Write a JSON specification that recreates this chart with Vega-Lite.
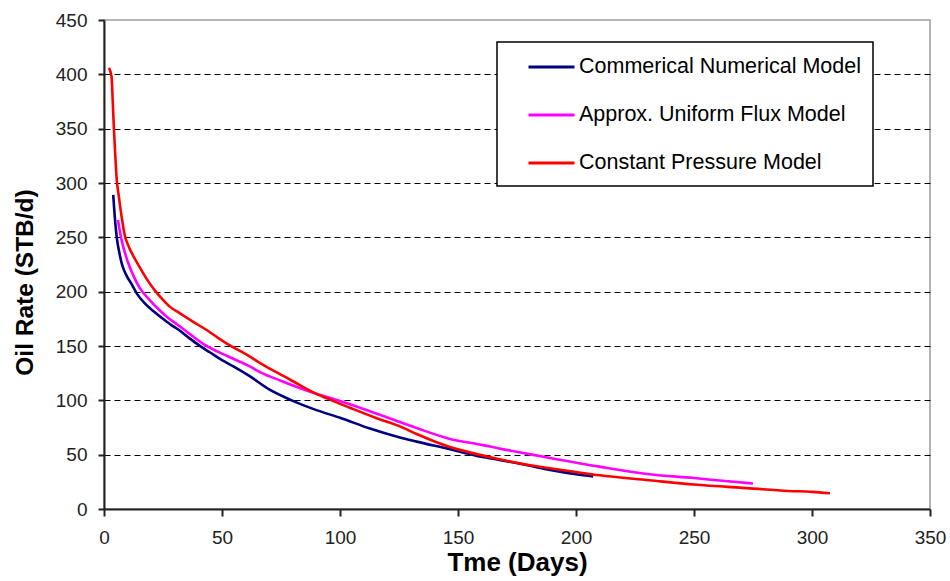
{
  "$schema": "https://vega.github.io/schema/vega-lite/v6.json",
  "width": 826,
  "height": 489,
  "autosize": {"type": "none"},
  "padding": {"left": 104, "top": 20, "right": 20, "bottom": 72},
  "background": "white",
  "config": {
    "font": "Liberation Sans",
    "view": {"stroke": "#9a9a9a", "strokeWidth": 1.5}
  },
  "datasets": {
    "curves": [
      {"model": "Commerical Numerical Model", "days": 3.9, "rate": 289},
      {"model": "Commerical Numerical Model", "days": 4.6, "rate": 268},
      {"model": "Commerical Numerical Model", "days": 5.4, "rate": 250},
      {"model": "Commerical Numerical Model", "days": 6.5, "rate": 236},
      {"model": "Commerical Numerical Model", "days": 7.5, "rate": 226},
      {"model": "Commerical Numerical Model", "days": 9.5, "rate": 215},
      {"model": "Commerical Numerical Model", "days": 11.7, "rate": 207},
      {"model": "Commerical Numerical Model", "days": 14, "rate": 198},
      {"model": "Commerical Numerical Model", "days": 17.4, "rate": 189},
      {"model": "Commerical Numerical Model", "days": 21, "rate": 182},
      {"model": "Commerical Numerical Model", "days": 24.4, "rate": 176},
      {"model": "Commerical Numerical Model", "days": 28, "rate": 170},
      {"model": "Commerical Numerical Model", "days": 32.2, "rate": 164},
      {"model": "Commerical Numerical Model", "days": 36, "rate": 157.5},
      {"model": "Commerical Numerical Model", "days": 40, "rate": 151},
      {"model": "Commerical Numerical Model", "days": 45, "rate": 144},
      {"model": "Commerical Numerical Model", "days": 50, "rate": 137},
      {"model": "Commerical Numerical Model", "days": 55, "rate": 131},
      {"model": "Commerical Numerical Model", "days": 61.9, "rate": 122},
      {"model": "Commerical Numerical Model", "days": 70, "rate": 110},
      {"model": "Commerical Numerical Model", "days": 79.5, "rate": 100},
      {"model": "Commerical Numerical Model", "days": 90, "rate": 91},
      {"model": "Commerical Numerical Model", "days": 100, "rate": 84},
      {"model": "Commerical Numerical Model", "days": 112.7, "rate": 74},
      {"model": "Commerical Numerical Model", "days": 125, "rate": 66},
      {"model": "Commerical Numerical Model", "days": 132.5, "rate": 62},
      {"model": "Commerical Numerical Model", "days": 146.6, "rate": 55},
      {"model": "Commerical Numerical Model", "days": 160, "rate": 48},
      {"model": "Commerical Numerical Model", "days": 168, "rate": 45},
      {"model": "Commerical Numerical Model", "days": 180, "rate": 40},
      {"model": "Commerical Numerical Model", "days": 189, "rate": 36},
      {"model": "Commerical Numerical Model", "days": 200, "rate": 32},
      {"model": "Commerical Numerical Model", "days": 207.3, "rate": 30},

      {"model": "Approx. Uniform Flux Model", "days": 5.9, "rate": 266},
      {"model": "Approx. Uniform Flux Model", "days": 7.2, "rate": 250},
      {"model": "Approx. Uniform Flux Model", "days": 8.2, "rate": 241},
      {"model": "Approx. Uniform Flux Model", "days": 10, "rate": 228},
      {"model": "Approx. Uniform Flux Model", "days": 12.4, "rate": 215},
      {"model": "Approx. Uniform Flux Model", "days": 15, "rate": 204},
      {"model": "Approx. Uniform Flux Model", "days": 19.5, "rate": 192},
      {"model": "Approx. Uniform Flux Model", "days": 23, "rate": 184},
      {"model": "Approx. Uniform Flux Model", "days": 26.6, "rate": 177},
      {"model": "Approx. Uniform Flux Model", "days": 32.2, "rate": 168},
      {"model": "Approx. Uniform Flux Model", "days": 37, "rate": 160},
      {"model": "Approx. Uniform Flux Model", "days": 42, "rate": 152},
      {"model": "Approx. Uniform Flux Model", "days": 48, "rate": 145},
      {"model": "Approx. Uniform Flux Model", "days": 55, "rate": 138},
      {"model": "Approx. Uniform Flux Model", "days": 62, "rate": 131},
      {"model": "Approx. Uniform Flux Model", "days": 66.1, "rate": 126},
      {"model": "Approx. Uniform Flux Model", "days": 75, "rate": 118},
      {"model": "Approx. Uniform Flux Model", "days": 82, "rate": 112},
      {"model": "Approx. Uniform Flux Model", "days": 90, "rate": 106},
      {"model": "Approx. Uniform Flux Model", "days": 99, "rate": 100},
      {"model": "Approx. Uniform Flux Model", "days": 110, "rate": 92},
      {"model": "Approx. Uniform Flux Model", "days": 125.4, "rate": 80},
      {"model": "Approx. Uniform Flux Model", "days": 132.5, "rate": 74.5},
      {"model": "Approx. Uniform Flux Model", "days": 146.6, "rate": 64.5},
      {"model": "Approx. Uniform Flux Model", "days": 160, "rate": 59},
      {"model": "Approx. Uniform Flux Model", "days": 168, "rate": 55.5},
      {"model": "Approx. Uniform Flux Model", "days": 189, "rate": 47},
      {"model": "Approx. Uniform Flux Model", "days": 210, "rate": 39},
      {"model": "Approx. Uniform Flux Model", "days": 231, "rate": 32},
      {"model": "Approx. Uniform Flux Model", "days": 250, "rate": 28.5},
      {"model": "Approx. Uniform Flux Model", "days": 262, "rate": 26},
      {"model": "Approx. Uniform Flux Model", "days": 275, "rate": 23.5},

      {"model": "Constant Pressure Model", "days": 2.1, "rate": 406},
      {"model": "Constant Pressure Model", "days": 3.2, "rate": 398},
      {"model": "Constant Pressure Model", "days": 3.7, "rate": 375},
      {"model": "Constant Pressure Model", "days": 4.2, "rate": 350},
      {"model": "Constant Pressure Model", "days": 4.8, "rate": 325},
      {"model": "Constant Pressure Model", "days": 5.4, "rate": 303},
      {"model": "Constant Pressure Model", "days": 6.2, "rate": 289},
      {"model": "Constant Pressure Model", "days": 7.0, "rate": 276},
      {"model": "Constant Pressure Model", "days": 7.9, "rate": 263},
      {"model": "Constant Pressure Model", "days": 8.9, "rate": 251},
      {"model": "Constant Pressure Model", "days": 10, "rate": 244},
      {"model": "Constant Pressure Model", "days": 11.2, "rate": 238},
      {"model": "Constant Pressure Model", "days": 12.4, "rate": 233},
      {"model": "Constant Pressure Model", "days": 15, "rate": 223},
      {"model": "Constant Pressure Model", "days": 18, "rate": 212},
      {"model": "Constant Pressure Model", "days": 21.6, "rate": 201},
      {"model": "Constant Pressure Model", "days": 25, "rate": 192.5},
      {"model": "Constant Pressure Model", "days": 28, "rate": 186},
      {"model": "Constant Pressure Model", "days": 32.2, "rate": 180},
      {"model": "Constant Pressure Model", "days": 38, "rate": 172},
      {"model": "Constant Pressure Model", "days": 44, "rate": 164},
      {"model": "Constant Pressure Model", "days": 48, "rate": 158},
      {"model": "Constant Pressure Model", "days": 53, "rate": 151},
      {"model": "Constant Pressure Model", "days": 58, "rate": 145},
      {"model": "Constant Pressure Model", "days": 62, "rate": 140},
      {"model": "Constant Pressure Model", "days": 66, "rate": 134.5},
      {"model": "Constant Pressure Model", "days": 70, "rate": 129.5},
      {"model": "Constant Pressure Model", "days": 76, "rate": 122.5},
      {"model": "Constant Pressure Model", "days": 83, "rate": 114},
      {"model": "Constant Pressure Model", "days": 90, "rate": 106},
      {"model": "Constant Pressure Model", "days": 96.5, "rate": 100},
      {"model": "Constant Pressure Model", "days": 105, "rate": 92.5},
      {"model": "Constant Pressure Model", "days": 115, "rate": 84},
      {"model": "Constant Pressure Model", "days": 125.4, "rate": 76},
      {"model": "Constant Pressure Model", "days": 132.5, "rate": 69},
      {"model": "Constant Pressure Model", "days": 146.6, "rate": 57},
      {"model": "Constant Pressure Model", "days": 158, "rate": 50.5},
      {"model": "Constant Pressure Model", "days": 168, "rate": 45.5},
      {"model": "Constant Pressure Model", "days": 180, "rate": 40.5},
      {"model": "Constant Pressure Model", "days": 189, "rate": 37.5},
      {"model": "Constant Pressure Model", "days": 200, "rate": 34},
      {"model": "Constant Pressure Model", "days": 210, "rate": 31},
      {"model": "Constant Pressure Model", "days": 231, "rate": 26.5},
      {"model": "Constant Pressure Model", "days": 250, "rate": 22.5},
      {"model": "Constant Pressure Model", "days": 273.7, "rate": 19},
      {"model": "Constant Pressure Model", "days": 290, "rate": 16.6},
      {"model": "Constant Pressure Model", "days": 300, "rate": 15.8},
      {"model": "Constant Pressure Model", "days": 307.6, "rate": 14.5}
    ]
  },
  "data": {"name": "curves"},
  "mark": {"type": "line", "strokeWidth": 2.6, "interpolate": "monotone"},
  "encoding": {
    "x": {
      "field": "days",
      "type": "quantitative",
      "scale": {"domain": [0, 350], "nice": false, "zero": true},
      "axis": {
        "values": [0, 50, 100, 150, 200, 250, 300, 350],
        "grid": false,
        "labelFlush": false,
        "labelOverlap": false,
        "labelFont": "Liberation Sans",
        "labelFontSize": 19,
        "labelColor": "#222222",
        "labelPadding": 12,
        "tickSize": 7,
        "tickColor": "#222222",
        "tickWidth": 2,
        "domainColor": "#222222",
        "domainWidth": 2,
        "title": "Tme (Days)",
        "titleFont": "Liberation Sans",
        "titleFontSize": 26,
        "titleFontWeight": "bold",
        "titleColor": "#000000",
        "titleX": 413,
        "titleY": 61,
        "titleAlign": "center",
        "titleBaseline": "alphabetic"
      }
    },
    "y": {
      "field": "rate",
      "type": "quantitative",
      "scale": {"domain": [0, 450], "nice": false},
      "axis": {
        "values": [0, 50, 100, 150, 200, 250, 300, 350, 400, 450],
        "grid": true,
        "gridColor": "#000000",
        "gridDash": [6, 4],
        "gridWidth": 1,
        "gridOpacity": {"condition": {"test": "datum.value == 0 || datum.value >= 450", "value": 0}, "value": 1},
        "labelFont": "Liberation Sans",
        "labelFontSize": 19,
        "labelColor": "#222222",
        "labelPadding": 11,
        "tickSize": 6,
        "tickColor": "#222222",
        "tickWidth": 2,
        "domainColor": "#222222",
        "domainWidth": 2,
        "title": "Oil Rate (STB/d)",
        "titleFont": "Liberation Sans",
        "titleFontSize": 24.5,
        "titleFontWeight": "bold",
        "titleColor": "#000000",
        "titleAngle": -90,
        "titleX": -79,
        "titleY": 262,
        "titleAlign": "center",
        "titleBaseline": "middle"
      }
    },
    "color": {
      "field": "model",
      "type": "nominal",
      "scale": {
        "domain": ["Commerical Numerical Model", "Approx. Uniform Flux Model", "Constant Pressure Model"],
        "range": ["#000080", "#ff00ff", "#ff0000"]
      },
      "legend": {
        "title": null,
        "orient": "none",
        "legendX": 393,
        "legendY": 22,
        "fillColor": "#ffffff",
        "strokeColor": "#000000",
        "padding": 12,
        "symbolOffset": 29.5,
        "symbolType": "M-2,0H2",
        "symbolSize": 529,
        "symbolStrokeWidth": 3,
        "labelFont": "Liberation Sans",
        "labelFontSize": 21.5,
        "labelColor": "#000000",
        "labelOffset": 14.5,
        "labelLimit": 400,
        "rowPadding": 24,
        "encode": {"legend": {"update": {"strokeWidth": {"value": 1.5}}}}
      }
    }
  }
}
